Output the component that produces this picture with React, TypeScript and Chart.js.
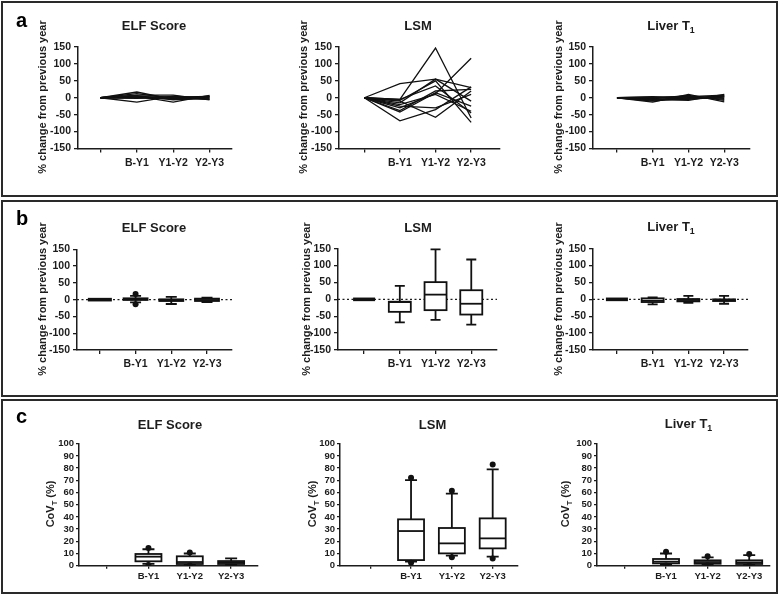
import React, { useEffect, useRef } from "react";
import { Chart, registerables } from "chart.js";

Chart.register(...registerables);

const FONT = "'Liberation Sans', Arial, Helvetica, sans-serif";
const INK = "#1c1c1c";

// ---------- data ----------
const CATEGORIES = ["", "B-Y1", "Y1-Y2", "Y2-Y3"];
const CHANGE_TICKS = [-150, -100, -50, 0, 50, 100, 150];
const COV_TICKS = [0, 10, 20, 30, 40, 50, 60, 70, 80, 90, 100];

// (a) individual % change from previous year: [B-Y1, Y1-Y2, Y2-Y3] (start at 0)
const ELF_LINES = [
  [17, -5, 3],
  [-13, 5, -2],
  [8, 8, -6],
  [5, -13, 7],
  [3, 0, 2],
  [0, -3, -4],
  [12, -2, 5],
  [2, 3, -5],
  [6, -6, 0],
  [-2, 2, 4],
];
const LSM_LINES = [
  [42, 55, 30],
  [-5, 147, -60],
  [-8, 50, -73],
  [-30, 12, 117],
  [-38, 20, 25],
  [-68, -35, 32],
  [-20, 10, -40],
  [-10, -58, 20],
  [-42, 15, -25],
  [-25, -30, 10],
  [-5, 35, -45],
  [-15, 55, -10],
];
const T1_LINES = [
  [-13, 10, -12],
  [-8, 3, 8],
  [-5, -8, 10],
  [0, 5, -5],
  [3, -3, 2],
  [-10, 0, 5],
  [-3, 7, -8],
  [-6, -5, 3],
  [2, 2, -2],
  [-1, -2, 6],
];

// (b) % change box plots: [min, q1, median, q3, max] per category
const ELF_CHANGE_BOX = [
  [0, 0, 0, 0, 0],
  [-8, -1, 2, 4, 11],
  [-13, -4, -2, 1, 8],
  [-7, -4, -1, 3, 6],
];
const ELF_CHANGE_OUT = [
  [1, 17],
  [1, -14],
];
const LSM_CHANGE_BOX = [
  [0, 0, 0, 0, 0],
  [-68, -37, -8, -7, 40],
  [-61, -32, 14, 51, 148],
  [-75, -45, -13, 27, 118],
];
const LSM_CHANGE_OUT: number[][] = [];
const T1_CHANGE_BOX = [
  [0, 0, 0, 0, 0],
  [-15, -8, -4, 3, 6],
  [-10, -6, -2, 1, 10],
  [-13, -5, -2, 0, 10],
];
const T1_CHANGE_OUT: number[][] = [];

// (c) CoV_T (%) box plots
const ELF_COV_BOX = [null, [1.5, 3.6, 7.4, 9.6, 13.5], [0.8, 1.4, 3, 7.7, 10], [0.8, 1.4, 2.5, 3.8, 6]];
const ELF_COV_OUT = [
  [1, 14.5],
  [1, 0.6],
  [2, 10.8],
  [2, 0.2],
];
const LSM_COV_BOX = [null, [3.3, 4.6, 28.4, 38, 70.2], [8.2, 10.1, 18.3, 30.9, 59], [7.4, 14.2, 22.4, 38.8, 79]];
const LSM_COV_OUT = [
  [1, 72],
  [1, 2.5],
  [2, 61.5],
  [2, 7],
  [3, 83],
  [3, 6],
];
const T1_COV_BOX = [null, [1, 1.9, 3.3, 5.5, 10], [0.8, 1.6, 3, 4.4, 6.8], [0.8, 1.4, 2.7, 4.4, 8.7]];
const T1_COV_OUT = [
  [1, 11.5],
  [1, 0.2],
  [2, 7.7],
  [2, 0.3],
  [3, 9.6],
  [3, 0.2],
];

// ---------- layout ----------
type Part = { t: string; sub?: boolean };
type PanelCfg = {
  x0: number; y0: number; w: number; h: number;
  pl: number; pr: number; pt: number; pb: number;
  xMin: number; xMax: number;
  yMin: number; yMax: number; yTicks: number[];
  tickFont: number; catFont: number; tickLen: number; tickPad: number; catPad: number;
  title: Part[]; tx: number; ty: number;
  yTitle: Part[]; ytx: number; yty: number;
  letter?: string; lx?: number; ly?: number;
  lines?: number[][];
  boxes?: (number[] | null)[]; outliers?: number[][];
  zero?: boolean; boxW?: number; capW?: number;
};

const YW = 34;
const XH = 24;

const COL = [
  { x0: 4, w: 258 },
  { x0: 262, w: 260 },
  { x0: 522, w: 253 },
];
const ROW = [
  { y0: 4, h: 192 },
  { y0: 202, h: 192 },
  { y0: 401, h: 191 },
];

const PCT_TITLE: Part[] = [{ t: "% change from previous year" }];
const COV_TITLE: Part[] = [{ t: "CoV" }, { t: "T", sub: true }, { t: " (%)" }];
const ELF_T: Part[] = [{ t: "ELF Score" }];
const LSM_T: Part[] = [{ t: "LSM" }];
const T1_T: Part[] = [{ t: "Liver T" }, { t: "1", sub: true }];

const rowAB = { yMin: -150, yMax: 150, yTicks: CHANGE_TICKS, tickFont: 10.5, catFont: 10.5, tickLen: 4, tickPad: 3, catPad: 4 };
const rowC = { yMin: 0, yMax: 100, yTicks: COV_TICKS, tickFont: 9.5, catFont: 9.5, tickLen: 3, tickPad: 2, catPad: 2 };

const PANELS: PanelCfg[] = [
  // row a
  { ...COL[0], ...ROW[0], ...rowAB, pl: 78, pr: 232, pt: 47, pb: 148.5, xMin: -0.62, xMax: 3.62,
    title: ELF_T, tx: 154, ty: 25, yTitle: PCT_TITLE, ytx: 42, yty: 97, letter: "a", lx: 16, ly: 27, lines: ELF_LINES },
  { ...COL[1], ...ROW[0], ...rowAB, pl: 339, pr: 500, pt: 47, pb: 148.5, xMin: -0.71, xMax: 3.81,
    title: LSM_T, tx: 418, ty: 25, yTitle: PCT_TITLE, ytx: 303, yty: 97, lines: LSM_LINES },
  { ...COL[2], ...ROW[0], ...rowAB, pl: 593, pr: 750, pt: 47, pb: 148.5, xMin: -0.67, xMax: 3.72,
    title: T1_T, tx: 671, ty: 25, yTitle: PCT_TITLE, ytx: 558, yty: 97, lines: T1_LINES },
  // row b
  { ...COL[0], ...ROW[1], ...rowAB, pl: 77, pr: 232, pt: 249.3, pb: 350, xMin: -0.64, xMax: 3.7,
    title: ELF_T, tx: 154, ty: 227, yTitle: PCT_TITLE, ytx: 42, yty: 299, letter: "b", lx: 16, ly: 225,
    boxes: ELF_CHANGE_BOX, outliers: ELF_CHANGE_OUT, zero: true, boxW: 24, capW: 11 },
  { ...COL[1], ...ROW[1], ...rowAB, pl: 338, pr: 497, pt: 248.7, pb: 350, xMin: -0.73, xMax: 3.72,
    title: LSM_T, tx: 418, ty: 227, yTitle: PCT_TITLE, ytx: 306, yty: 299,
    boxes: LSM_CHANGE_BOX, outliers: LSM_CHANGE_OUT, zero: true, boxW: 22, capW: 10 },
  { ...COL[2], ...ROW[1], ...rowAB, pl: 593, pr: 748, pt: 248.7, pb: 350, xMin: -0.67, xMax: 3.67,
    title: T1_T, tx: 671, ty: 226, yTitle: PCT_TITLE, ytx: 558, yty: 299,
    boxes: T1_CHANGE_BOX, outliers: T1_CHANGE_OUT, zero: true, boxW: 22, capW: 10 },
  // row c
  { ...COL[0], ...ROW[2], ...rowC, pl: 79, pr: 262, pt: 443.7, pb: 565.7, xMin: -0.68, xMax: 3.65,
    title: ELF_T, tx: 170, ty: 424, yTitle: COV_TITLE, ytx: 50, yty: 504, letter: "c", lx: 16, ly: 423,
    boxes: ELF_COV_BOX, outliers: ELF_COV_OUT, boxW: 26, capW: 12 },
  { ...COL[1], ...ROW[2], ...rowC, pl: 340, pr: 522, pt: 443.7, pb: 565.7, xMin: -0.74, xMax: 3.62,
    title: LSM_T, tx: 432.5, ty: 424, yTitle: COV_TITLE, ytx: 312.5, yty: 504,
    boxes: LSM_COV_BOX, outliers: LSM_COV_OUT, boxW: 26, capW: 12 },
  { ...COL[2], ...ROW[2], ...rowC, pl: 597, pr: 770, pt: 443.7, pb: 565.7, xMin: -0.66, xMax: 3.5,
    title: T1_T, tx: 688.5, ty: 423, yTitle: COV_TITLE, ytx: 565.5, yty: 504,
    boxes: T1_COV_BOX, outliers: T1_COV_OUT, boxW: 26, capW: 12 },
];

// ---------- drawing helpers ----------
function drawRich(ctx: CanvasRenderingContext2D, parts: Part[], size: number, cx: number, cy: number) {
  const main = `bold ${size}px ${FONT}`;
  const sub = `bold ${Math.round(size * 0.68 * 10) / 10}px ${FONT}`;
  let total = 0;
  const widths: number[] = [];
  for (const p of parts) {
    ctx.font = p.sub ? sub : main;
    const w = ctx.measureText(p.t).width;
    widths.push(w);
    total += w;
  }
  let x = cx - total / 2;
  const base = cy + size * 0.36;
  ctx.textAlign = "left";
  ctx.textBaseline = "alphabetic";
  parts.forEach((p, i) => {
    ctx.font = p.sub ? sub : main;
    ctx.fillText(p.t, x, p.sub ? base + size * 0.26 : base);
    x += widths[i];
  });
}

function Panel({ cfg }: { cfg: PanelCfg }) {
  const ref = useRef<HTMLCanvasElement>(null);
  useEffect(() => {
    const c = cfg;
    const canvas = ref.current!;
    const gridCommon = {
      drawOnChartArea: false,
      drawTicks: true,
      tickLength: c.tickLen,
      color: INK,
      lineWidth: 1.3,
    };
    const datasets: any[] = [];
    if (c.lines) {
      c.lines.forEach((ln) => {
        datasets.push({
          type: "line",
          data: [{ x: 0, y: 0 }, ...ln.map((v, i) => ({ x: i + 1, y: v }))],
          borderColor: "#111",
          borderWidth: 1.3,
          pointRadius: 0,
          tension: 0,
          fill: false,
        });
      });
    }
    if (c.outliers) {
      datasets.push({
        type: "scatter",
        data: c.outliers.map(([i, v]) => ({ x: i, y: v })),
        backgroundColor: "#111",
        borderColor: "#111",
        borderWidth: 0,
        pointRadius: 3,
      });
    }

    const boxPlugin = {
      id: "boxes",
      beforeDatasetsDraw(chart: any) {
        const ctx: CanvasRenderingContext2D = chart.ctx;
        const xs = chart.scales.x;
        const ys = chart.scales.y;
        const area = chart.chartArea;
        ctx.save();
        if (c.zero) {
          const y0 = ys.getPixelForValue(0);
          ctx.strokeStyle = INK;
          ctx.lineWidth = 1.4;
          ctx.setLineDash([2, 2.5]);
          ctx.beginPath();
          ctx.moveTo(area.left, y0);
          ctx.lineTo(area.right, y0);
          ctx.stroke();
          ctx.setLineDash([]);
        }
        if (c.boxes) {
          ctx.strokeStyle = "#111";
          c.boxes.forEach((b, i) => {
            if (!b) return;
            const [mn, q1, md, q3, mx] = b;
            const cx = xs.getPixelForValue(i);
            const pMn = ys.getPixelForValue(mn);
            const pQ1 = ys.getPixelForValue(q1);
            const pMd = ys.getPixelForValue(md);
            const pQ3 = ys.getPixelForValue(q3);
            const pMx = ys.getPixelForValue(mx);
            const bw = c.boxW!;
            const cw = c.capW!;
            if (q1 === q3 && mn === mx) {
              ctx.fillStyle = "#111";
              ctx.fillRect(cx - bw / 2, pMd - 1.8, bw, 3.6);
              return;
            }
            ctx.lineWidth = 1.8;
            ctx.beginPath();
            ctx.moveTo(cx, pMx);
            ctx.lineTo(cx, pQ3);
            ctx.moveTo(cx, pQ1);
            ctx.lineTo(cx, pMn);
            ctx.moveTo(cx - cw / 2, pMx);
            ctx.lineTo(cx + cw / 2, pMx);
            ctx.moveTo(cx - cw / 2, pMn);
            ctx.lineTo(cx + cw / 2, pMn);
            ctx.stroke();
            ctx.fillStyle = "#fff";
            ctx.fillRect(cx - bw / 2, pQ3, bw, pQ1 - pQ3);
            ctx.strokeRect(cx - bw / 2, pQ3, bw, pQ1 - pQ3);
            ctx.beginPath();
            ctx.moveTo(cx - bw / 2, pMd);
            ctx.lineTo(cx + bw / 2, pMd);
            ctx.stroke();
          });
        }
        ctx.restore();
      },
    };

    const textPlugin = {
      id: "panelText",
      afterDraw(chart: any) {
        const ctx: CanvasRenderingContext2D = chart.ctx;
        ctx.save();
        ctx.fillStyle = INK;
        drawRich(ctx, c.title, 13, c.tx - c.x0, c.ty - c.y0);
        ctx.save();
        ctx.translate(c.ytx - c.x0, c.yty - c.y0);
        ctx.rotate(-Math.PI / 2);
        drawRich(ctx, c.yTitle, 11, 0, 0);
        ctx.restore();
        if (c.letter) {
          ctx.font = `bold 20px ${FONT}`;
          ctx.textAlign = "left";
          ctx.textBaseline = "alphabetic";
          ctx.fillStyle = "#000";
          ctx.fillText(c.letter, c.lx! - c.x0, c.ly! - c.y0);
        }
        ctx.restore();
      },
    };

    const chart = new Chart(canvas, {
      type: c.lines ? "line" : "scatter",
      data: { datasets },
      plugins: [boxPlugin, textPlugin],
      options: {
        animation: false,
        responsive: false,
        devicePixelRatio: 1,
        events: [],
        layout: {
          padding: {
            left: c.pl - c.x0 - YW,
            right: c.x0 + c.w - c.pr,
            top: c.pt - c.y0,
            bottom: c.y0 + c.h - c.pb - XH,
          },
        },
        plugins: {
          legend: { display: false },
          tooltip: { enabled: false },
          title: { display: false },
        },
        scales: {
          x: {
            type: "linear",
            min: c.xMin,
            max: c.xMax,
            afterBuildTicks: (s: any) => {
              s.ticks = CATEGORIES.map((_, i) => ({ value: i }));
            },
            afterFit: (s: any) => {
              s.height = XH;
            },
            ticks: {
              autoSkip: false,
              maxRotation: 0,
              padding: c.catPad,
              color: INK,
              font: { family: FONT, size: c.catFont, weight: "bold" },
              callback: (v: any) => CATEGORIES[Math.round(Number(v))] ?? "",
            },
            grid: gridCommon,
            border: { display: true, color: INK, width: 1.5 },
          },
          y: {
            type: "linear",
            min: c.yMin,
            max: c.yMax,
            afterBuildTicks: (s: any) => {
              s.ticks = c.yTicks.map((v) => ({ value: v }));
            },
            afterFit: (s: any) => {
              s.width = YW;
            },
            ticks: {
              autoSkip: false,
              padding: c.tickPad,
              color: INK,
              font: { family: FONT, size: c.tickFont, weight: "bold" },
              callback: (v: any) => String(v),
            },
            grid: gridCommon,
            border: { display: true, color: INK, width: 1.5 },
          },
        },
      } as any,
    });
    return () => chart.destroy();
  }, [cfg]);

  return (
    <canvas
      ref={ref}
      width={cfg.w}
      height={cfg.h}
      style={{ position: "absolute", left: cfg.x0, top: cfg.y0, width: cfg.w, height: cfg.h }}
    />
  );
}

const FRAMES = [
  { top: 1, height: 196 },
  { top: 200, height: 197 },
  { top: 399, height: 195 },
];

export default function App() {
  return (
    <div style={{ position: "absolute", left: 0, top: 0, width: 780, height: 595, background: "#fff", overflow: "hidden" }}>
      {FRAMES.map((f, i) => (
        <div
          key={i}
          style={{
            position: "absolute",
            left: 1,
            top: f.top,
            width: 777,
            height: f.height,
            border: "2px solid #2a2a2a",
            boxSizing: "border-box",
          }}
        />
      ))}
      {PANELS.map((p, i) => (
        <Panel key={i} cfg={p} />
      ))}
    </div>
  );
}
